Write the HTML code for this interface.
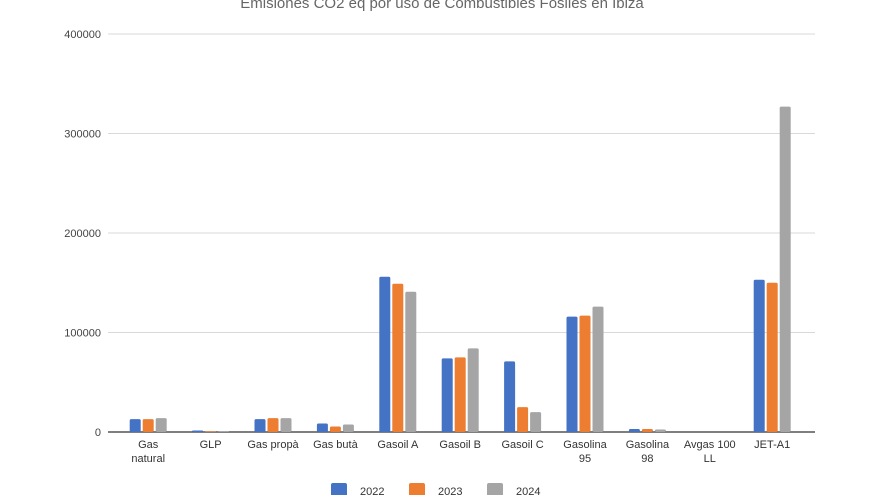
<!DOCTYPE html>
<html><head><meta charset="utf-8"><style>
body{margin:0;background:#fff;}
svg{display:block;font-family:"Liberation Sans",sans-serif;}
</style></head><body>
<svg id="c" width="880" height="495">
<text x="442" y="8" text-anchor="middle" font-size="15" fill="#666">Emisiones CO2 eq por uso de Combustibles Fósiles en Ibiza</text>
</svg>
<script>
const categories=[["Gas","natural"],["GLP"],["Gas propà"],["Gas butà"],["Gasoil A"],["Gasoil B"],["Gasoil C"],["Gasolina","95"],["Gasolina","98"],["Avgas 100","LL"],["JET-A1"]];
const series2022=[13000,1500,13000,8500,156000,74000,71000,116000,3000,0,153000];
const series2023=[13000,600,14000,5500,149000,75000,25000,117000,3000,0,150000];
const series2024=[14000,600,14000,7500,141000,84000,20000,126000,2500,0,327000];
const yTicks=[0,100000,200000,300000,400000];
const seriesNames=["2022","2023","2024"];
const colors=["#4472c4","#ed7d31","#a5a5a5"];
const svg=document.getElementById('c');
const NS="http://www.w3.org/2000/svg";
const x0=117,x1=803.4,y0=432,yTop=34,ymax=400000;
const step=(x1-x0)/categories.length;
const yS=v=>y0-(v/ymax)*(y0-yTop);
const xC=i=>x0+step*(i+0.5);
function mk(t,a){const e=document.createElementNS(NS,t);for(const k in a)e.setAttribute(k,a[k]);svg.appendChild(e);return e;}
yTicks.forEach(v=>{
  const l=mk('line',{x1:108,x2:815,y1:yS(v),y2:yS(v),stroke:v===0?'#555':'#d9d9d9','stroke-width':v===0?1.5:1});
  
  
  const t=mk('text',{x:101,y:yS(v)+4,'text-anchor':'end','font-size':11,fill:'#444'});
  t.textContent=v;
  
  
});
const all=[series2022,series2023,series2024];
const bw=11,gap=2;
categories.forEach((c,i)=>{
  all.forEach((s,j)=>{
    const x=xC(i)+(j-1)*(bw+gap)-bw/2;
    const h=Math.max(y0-yS(s[i]),0);
    const r=mk('rect',{x:x,y:y0-h,width:bw,height:h,fill:colors[j],rx:1.5});
    
    
  });
  c.forEach((line,k)=>{
    const t=mk('text',{x:xC(i),y:448+k*14,'text-anchor':'middle','font-size':11,fill:'#333'});
    t.textContent=line;
    
    
  });
});
const lx=[331,409,487];
seriesNames.forEach((n,j)=>{
  const r=mk('rect',{x:lx[j],y:483,width:16,height:14,fill:colors[j],rx:2});
  
  
  const t=mk('text',{x:lx[j]+29,y:495,'font-size':11,fill:'#333'});
  t.textContent=n;
  
  
});
</script>
</body></html>
